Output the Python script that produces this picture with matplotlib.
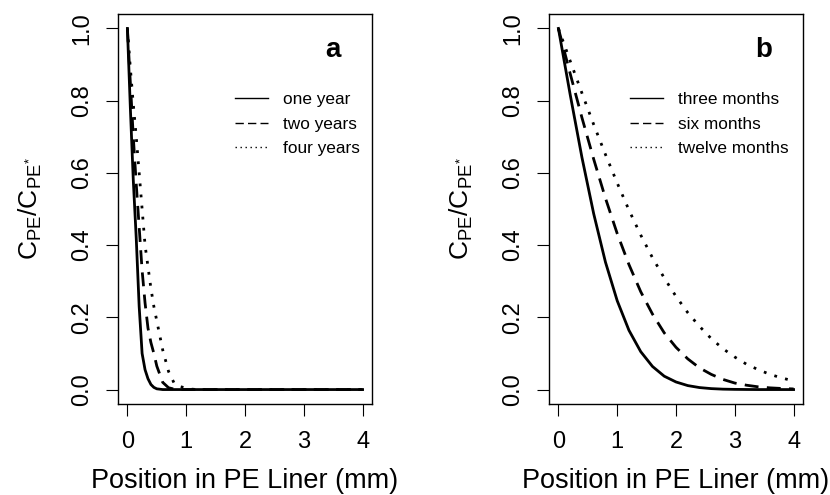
import numpy as np
import matplotlib
matplotlib.use("Agg")
import matplotlib.pyplot as plt
from matplotlib.lines import Line2D

plt.rcParams['font.family'] = ['Liberation Sans', 'DejaVu Sans']
plt.rcParams['mathtext.fontset'] = 'custom'
plt.rcParams['mathtext.rm'] = 'Liberation Sans'
plt.rcParams['mathtext.it'] = 'Liberation Sans:italic'

# panel a: years
x_a = [0, 0.05, 0.1, 0.15, 0.2, 0.25, 0.3, 0.35, 0.4, 0.45, 0.5, 0.6, 0.7, 0.8,
       0.9, 1.0, 1.1, 1.2, 1.5, 2, 3, 4]
one_year = [1.0, 0.78, 0.58, 0.42, 0.23, 0.10, 0.055, 0.03, 0.014, 0.006, 0.002, 0.0, 0, 0,
            0, 0, 0, 0, 0, 0, 0, 0]
two_years = [1.0, 0.85, 0.70, 0.57, 0.45, 0.33, 0.24, 0.17, 0.13, 0.10, 0.065, 0.02, 0.005, 0.001,
             0, 0, 0, 0, 0, 0, 0, 0]
four_years = [1.0, 0.89, 0.79, 0.70, 0.60, 0.50, 0.40, 0.34, 0.28, 0.23, 0.19, 0.11, 0.05, 0.016,
              0.008, 0.004, 0.001, 0, 0, 0, 0, 0]
labels_a = ['one year', 'two years', 'four years']

# panel b: months
x_b = [0, 0.2, 0.4, 0.6, 0.8, 1.0, 1.2, 1.4, 1.6, 1.8, 2.0, 2.2, 2.4, 2.6, 2.8,
       3.0, 3.2, 3.4, 3.6, 3.8, 4.0]
three_months = [1.0, 0.817, 0.643, 0.487, 0.353, 0.246, 0.164, 0.105, 0.064, 0.037,
                0.021, 0.011, 0.0055, 0.0026, 0.0011, 0.0005, 0.0002, 0, 0, 0, 0]
six_months = [1.0, 0.875, 0.753, 0.638, 0.530, 0.432, 0.346, 0.271, 0.209, 0.157,
              0.117, 0.085, 0.060, 0.042, 0.028, 0.018, 0.012, 0.0075, 0.0047, 0.003, 0.0017]
twelve_months = [1.0, 0.910, 0.821, 0.734, 0.651, 0.572, 0.497, 0.428, 0.365, 0.309,
                 0.258, 0.213, 0.175, 0.141, 0.113, 0.090, 0.070, 0.055, 0.042, 0.032, 0.024]
labels_b = ['three months', 'six months', 'twelve months']

styles = ['-', (0, (5, 3)), (0, (1, 3))]
leg_styles = ['-', (0, (6, 3)), (0, (1, 2.6))]

fig = plt.figure(figsize=(8.3, 4.95), dpi=100)
ax_a = fig.add_axes([118 / 830, 91 / 495, 254 / 830, 390 / 495])
ax_b = fig.add_axes([549 / 830, 91 / 495, 254 / 830, 390 / 495])


def panel(ax, x, series, labels, letter, leg_x):
    for y, ls in zip(series, styles):
        ax.plot(x, y, color='black', lw=2, linestyle=ls)
    ax.set_xlim(-0.16, 4.16)
    ax.set_ylim(-0.04, 1.04)
    ax.set_xticks([0, 1, 2, 3, 4])
    ax.set_yticks([0, 0.2, 0.4, 0.6, 0.8, 1.0])
    ax.set_yticklabels(['0.0', '0.2', '0.4', '0.6', '0.8', '1.0'],
                       rotation=90, va='center')
    ax.tick_params(length=8.6, width=0.8, labelsize=17, pad=9)
    ax.tick_params(axis='x', pad=10.5)
    for s in ax.spines.values():
        s.set_linewidth(1.0)
    ax.set_xlabel('Position in PE Liner (mm)', fontsize=19.5)
    ax.xaxis.set_label_coords(0.5, -0.165)
    ax.set_ylabel(r'$\mathrm{C_{PE}/C_{PE^{*}}}$', fontsize=19)
    ax.yaxis.set_label_coords(-0.29, 0.5)
    ax.text(0.846, 0.908, letter, transform=ax.transAxes, fontsize=20,
            fontweight='bold', ha='center', va='center')
    handles = [Line2D([], [], color='black', lw=1, linestyle=ls) for ls in leg_styles]
    ax.legend(handles, labels, loc='upper left', bbox_to_anchor=(leg_x, 0.80),
              frameon=False, fontsize=12.4, handlelength=1.9, handletextpad=0.9,
              labelspacing=0.55, borderpad=0, borderaxespad=0)


panel(ax_a, x_a, [one_year, two_years, four_years], labels_a, 'a', 0.46)
panel(ax_b, x_b, [three_months, six_months, twelve_months], labels_b, 'b', 0.319)

fig.savefig('out.png', dpi=100)
